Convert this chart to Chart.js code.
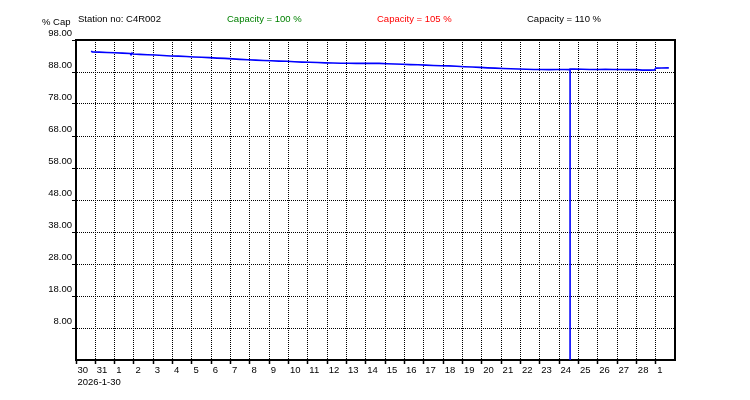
<!DOCTYPE html>
<html>
<head>
<meta charset="utf-8">
<script src="https://cdn.jsdelivr.net/npm/chart.js@4/dist/chart.umd.min.js"></script>
<style>
  html, body { margin: 0; padding: 0; background: #ffffff; }
  #wrap { width: 750px; height: 400px; position: relative; }
</style>
</head>
<body>
<div id="wrap"><canvas id="c" width="750" height="400"></canvas></div>
<script>
// ---- data (x = days since 2026-01-30 00:00) ----
const dayOffsets = [
  0.78, 0.85, 1.2, 1.6, 2.0, 2.4, 2.8, 2.85, 2.9, 2.95, 3.3, 3.7, 4.1, 4.5, 4.9,
  5.3, 5.7, 6.1, 6.5, 6.9, 7.3, 7.7, 8.1, 8.5, 8.9, 9.3, 9.7, 10.1, 10.5, 10.9,
  11.3, 11.7, 12.1, 12.5, 12.9, 13.3, 13.7, 14.1, 14.5, 14.9, 15.3, 15.7, 16.1, 16.5, 16.9,
  17.3, 17.7, 18.1, 18.5, 18.9, 19.3, 19.7, 20.1, 20.5, 20.9, 21.3, 21.7, 22.1, 22.5, 22.9,
  23.3, 23.7, 24.1, 24.5, 24.9, 25.3, 25.57, 25.57, 25.57, 25.8, 26.2, 26.6, 27.0, 27.4, 27.8,
  28.2, 28.6, 29.0, 29.3, 29.7, 29.95, 30.0, 30.3, 30.68
];
const capacity = [
  94.5, 94.3, 94.2, 94.1, 94.0, 93.9, 93.8, 93.4, 93.9, 93.6, 93.5, 93.4, 93.3, 93.15, 93.0,
  92.95, 92.85, 92.7, 92.6, 92.5, 92.35, 92.25, 92.1, 91.95, 91.85, 91.7, 91.6, 91.5, 91.4, 91.35,
  91.2, 91.1, 91.05, 90.95, 90.85, 90.8, 90.75, 90.75, 90.7, 90.7, 90.75, 90.7, 90.6, 90.5, 90.4,
  90.3, 90.25, 90.15, 90.05, 89.95, 89.9, 89.8, 89.65, 89.55, 89.45, 89.3, 89.2, 89.1, 89.0, 88.95,
  88.85, 88.8, 88.8, 88.75, 88.8, 88.8, 88.75, -2, 88.95, 88.9, 88.85, 88.8, 88.8, 88.85, 88.8,
  88.8, 88.75, 88.75, 88.6, 88.6, 88.65, 89.2, 89.25, 89.3
];
const xTickLabels = ['30','31','1','2','3','4','5','6','7','8','9','10','11','12','13','14','15',
  '16','17','18','19','20','21','22','23','24','25','26','27','28','1'];
const startDateLabel = '2026-1-30';
const yTickValues = [8, 18, 28, 38, 48, 58, 68, 78, 88, 98];
const yUnitLabel = '% Cap';
const headerTexts = ['Station no: C4R002', 'Capacity = 100 %', 'Capacity = 105 %', 'Capacity = 110 %'];

// ---- styles ----
const FONT = '"Liberation Sans", Arial, sans-serif';
const headerColors = ['#000000', '#008000', '#ff0000', '#000000'];
const headerX = [78, 227, 377, 527];

const points = dayOffsets.map((d, i) => ({ x: d, y: capacity[i] }));

const headerPlugin = {
  id: 'header',
  afterDraw(chart) {
    const ctx = chart.ctx;
    const a = chart.chartArea;
    ctx.save();
    // frame top + right
    ctx.strokeStyle = '#000';
    ctx.lineWidth = 2;
    ctx.beginPath();
    ctx.moveTo(a.left, a.top);
    ctx.lineTo(a.right, a.top);
    ctx.lineTo(a.right, a.bottom);
    ctx.stroke();
    ctx.font = '9.5px ' + FONT;
    ctx.textBaseline = 'middle';
    ctx.textAlign = 'left';
    headerTexts.forEach((t, i) => {
      ctx.fillStyle = headerColors[i];
      ctx.fillText(t, headerX[i], 19);
    });
    ctx.fillStyle = '#000';
    ctx.fillText(yUnitLabel, 42, 22);
    ctx.restore();
  }
};

new Chart(document.getElementById('c'), {
  type: 'line',
  data: {
    datasets: [{
      data: points,
      borderColor: '#0000ff',
      borderWidth: 1.6,
      pointRadius: 0,
      tension: 0,
      fill: false
    }]
  },
  options: {
    responsive: false,
    animation: false,
    events: [],
    layout: { padding: { top: 40, right: 75, bottom: 0, left: 0 } },
    plugins: { legend: { display: false }, tooltip: { enabled: false }, title: { display: false } },
    scales: {
      x: {
        type: 'linear',
        min: 0,
        max: 31,
        afterBuildTicks(scale) {
          scale.ticks = xTickLabels.map((_, i) => ({ value: i }));
        },
        afterFit(scale) { scale.height = 40; },
        ticks: {
          autoSkip: false,
          maxRotation: 0,
          minRotation: 0,
          align: 'start',
          labelOffset: 1.5,
          padding: 1,
          color: '#000',
          font: { family: FONT, size: 9.5 },
          callback(value, index) {
            const lbl = xTickLabels[index];
            return index === 0 ? [lbl, startDateLabel] : lbl;
          }
        },
        grid: {
          color: '#000',
          lineWidth: 1,
          tickLength: 4,
          tickColor: '#000',
          tickWidth: 1.5,
          tickBorderDash: []
        },
        border: { display: true, color: '#000', width: 2, dash: [1, 1] }
      },
      y: {
        type: 'linear',
        min: -2,
        max: 98,
        afterBuildTicks(scale) {
          scale.ticks = yTickValues.map(v => ({ value: v }));
        },
        afterFit(scale) { scale.width = 76; },
        ticks: {
          padding: 0,
          labelOffset: -7,
          color: '#000',
          font: { family: FONT, size: 9.5 },
          callback(value) { return Number(value).toFixed(2); }
        },
        grid: {
          color: '#000',
          lineWidth: 1,
          tickLength: 4,
          tickColor: '#000',
          tickWidth: 1,
          tickBorderDash: []
        },
        border: { display: true, color: '#000', width: 2, dash: [1, 1] }
      }
    }
  },
  plugins: [headerPlugin]
});
</script>
</body>
</html>
